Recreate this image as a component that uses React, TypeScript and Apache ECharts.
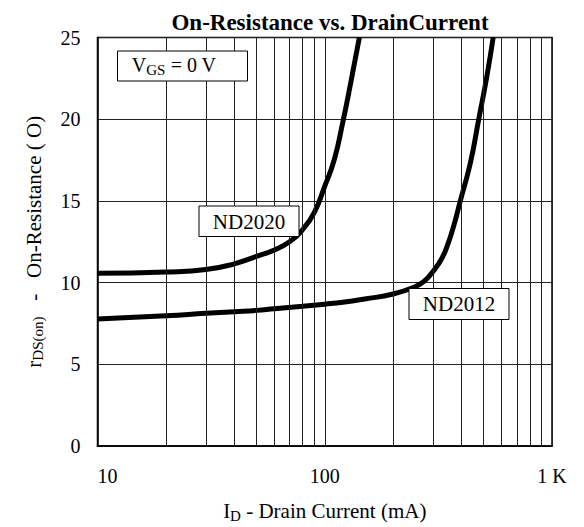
import React, { useEffect, useRef } from "react";
import * as echarts from "echarts";

// Drain current (mA) and on-resistance (ohm)
const nd2020Current = [10, 20, 30, 40, 50, 60, 70, 80, 90, 100, 110, 120, 130, 142];
const nd2020Resistance = [10.57, 10.65, 10.8, 11.15, 11.6, 12.0, 12.5, 13.25, 14.3, 15.9, 17.5, 19.8, 22.2, 25];

const nd2012Current = [10, 20, 30, 40, 50, 60, 80, 100, 120, 150, 200, 250, 275, 300, 325, 345, 370, 395, 437, 476, 515, 551];
const nd2012Resistance = [7.77, 7.97, 8.12, 8.22, 8.3, 8.4, 8.55, 8.68, 8.8, 9.0, 9.3, 9.75, 10.1, 10.7, 11.4, 12.2, 13.5, 15.0, 17.3, 20.0, 22.5, 25];

const minorGridX = [20, 30, 40, 50, 60, 70, 80, 90, 200, 300, 400, 500, 600, 700, 800, 900];
const xTickLabels: Record<number, string> = { 10: "10", 100: "100", 1000: "1 K" };
const yTicks = [0, 5, 10, 15, 20, 25];

const FONT = "Liberation Serif";

const richMain = { fontFamily: FONT, fontSize: 21, color: "#000", lineHeight: 24 };
const richSub = { fontFamily: FONT, fontSize: 15, color: "#000", lineHeight: 12, verticalAlign: "bottom" };

export default function App() {
  const ref = useRef<HTMLDivElement>(null);
  useEffect(() => {
    if (!ref.current) return;
    const chart = echarts.init(ref.current, undefined, { renderer: "svg" });
    chart.setOption({
      animation: false,
      backgroundColor: "#fff",
      title: {
        text: "On-Resistance vs. DrainCurrent",
        left: 325,
        textAlign: "center",
        top: 6,
        textStyle: { fontFamily: FONT, fontSize: 23, fontWeight: "bold", color: "#000" },
      },
      grid: {
        left: 97.5,
        right: 32,
        top: 37.5,
        bottom: 81,
        outerBoundsMode: "none",
        containLabel: false,
        show: true,
        borderColor: "#000",
        borderWidth: 1.5,
        backgroundColor: "transparent",
      },
      xAxis: {
        type: "log",
        logBase: 10,
        min: 10,
        max: 1000,
        axisLine: { show: true, lineStyle: { color: "#000", width: 1.5 } },
        axisTick: { show: false },
        splitLine: { show: true, lineStyle: { color: "#222", width: 1 } },
        axisLabel: {
          fontFamily: FONT,
          fontSize: 20,
          color: "#000",
          margin: 20,
          alignMinLabel: "left",
          formatter: (v: number) => xTickLabels[Math.round(v)] ?? "",
        },
        name: "{a|I}{sub|D}{a| - Drain Current (mA)}",
        nameLocation: "middle",
        nameGap: 53,
        nameTextStyle: { rich: { a: richMain, sub: richSub } },
      },
      yAxis: {
        type: "value",
        min: yTicks[0],
        max: yTicks[yTicks.length - 1],
        interval: 5,
        axisLine: { show: true, lineStyle: { color: "#000", width: 1.5 } },
        axisTick: { show: false },
        splitLine: { show: true, lineStyle: { color: "#222", width: 1 } },
        axisLabel: { fontFamily: FONT, fontSize: 20, color: "#000", margin: 17 },
        name: "{a|r}{sub|DS(on)}{a|   -   On-Resistance ( O)}",
        nameLocation: "middle",
        nameGap: 52,
        nameRotate: 90,
        nameTextStyle: { rich: { a: richMain, sub: richSub } },
      },
      series: [
        {
          name: "grid",
          type: "line",
          data: [],
          silent: true,
          markLine: {
            silent: true,
            symbol: "none",
            label: { show: false },
            lineStyle: { color: "#222", width: 1, type: "solid" },
            data: minorGridX.map((x) => ({ xAxis: x })),
          },
          z: 1,
        },
        {
          name: "ND2020",
          type: "line",
          data: nd2020Current.map((x, i) => [x, nd2020Resistance[i]]),
          smooth: 0.5,
          showSymbol: false,
          lineStyle: { color: "#000", width: 5 },
          z: 3,
        },
        {
          name: "ND2012",
          type: "line",
          data: nd2012Current.map((x, i) => [x, nd2012Resistance[i]]),
          smooth: 0.5,
          showSymbol: false,
          lineStyle: { color: "#000", width: 5 },
          z: 3,
        },
      ],
      graphic: [
        {
          type: "rect",
          shape: { x: 117.5, y: 51, width: 130, height: 30 },
          style: { fill: "#fff", stroke: "#000", lineWidth: 1 },
          z: 10,
        },
        {
          type: "text",
          x: 174,
          y: 65,
          style: {
            text: "{a|V}{sub|GS}{a| = 0 V}",
            align: "center",
            verticalAlign: "middle",
            rich: {
              a: { fontFamily: FONT, fontSize: 20, fill: "#000", lineHeight: 24 },
              sub: { fontFamily: FONT, fontSize: 15, fill: "#000", lineHeight: 12, verticalAlign: "bottom" },
            },
          },
          z: 11,
        },
        {
          type: "rect",
          shape: { x: 199, y: 206, width: 100, height: 30.5 },
          style: { fill: "#fff", stroke: "#000", lineWidth: 1 },
          z: 10,
        },
        {
          type: "text",
          x: 249,
          y: 221.5,
          style: { text: "ND2020", align: "center", verticalAlign: "middle", fontFamily: FONT, fontSize: 21, fill: "#000" },
          z: 11,
        },
        {
          type: "rect",
          shape: { x: 409, y: 288.5, width: 100, height: 31 },
          style: { fill: "#fff", stroke: "#000", lineWidth: 1 },
          z: 10,
        },
        {
          type: "text",
          x: 459,
          y: 304,
          style: { text: "ND2012", align: "center", verticalAlign: "middle", fontFamily: FONT, fontSize: 21, fill: "#000" },
          z: 11,
        },
      ],
    });
    return () => chart.dispose();
  }, []);
  return <div ref={ref} style={{ position: "absolute", left: 0, top: 0, width: 584, height: 527 }} />;
}
